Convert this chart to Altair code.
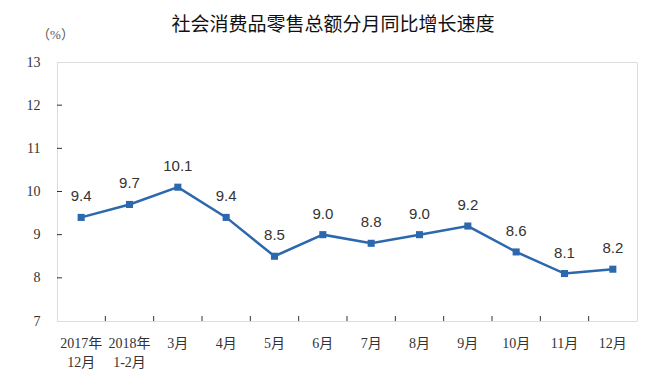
import altair as alt
import pandas as pd

title_text = ["社会消费品零售总额分月同比增长速度"]
cats = ["2017年\n12月", "2018年\n1-2月", "3月", "4月", "5月", "6月", "7月", "8月", "9月", "10月", "11月", "12月"]
vals = [9.4, 9.7, 10.1, 9.4, 8.5, 9.0, 8.8, 9.0, 9.2, 8.6, 8.1, 8.2]
y_ticks = [8, 9, 10, 11, 12]

df = pd.DataFrame({"cat": cats, "val": vals, "lab": [f"{v:.1f}" for v in vals]})
df_xt = pd.DataFrame({"cat": cats[1:]})
df_yt = pd.DataFrame({"v": y_ticks})
df_title = pd.DataFrame({"t": title_text})

W, H = 580, 259
NUM_FONT = "Liberation Serif, Noto Sans CJK SC"
xscale = alt.Scale(type="band", domain=cats, paddingInner=0, paddingOuter=0)
yscale = alt.Scale(domain=[7, 13], nice=False, zero=False)

x_axis = alt.Axis(
    title=None, labelAngle=0, ticks=False, domain=False, labelAlign="center",
    labelExpr="split(datum.label, '\\n')", labelFont=NUM_FONT, labelFontSize=14,
    labelColor="#333333", labelPadding=22, labelLineHeight=19, labelBaseline="middle",
)
y_axis = alt.Axis(
    title="（%）", titleAngle=0, titleX=-2, titleY=-28, titleAlign="center",
    titleBaseline="middle", titleFont=NUM_FONT, titleFontSize=13, titleFontWeight="normal",
    titleColor="#555555", values=[7, 8, 9, 10, 11, 12, 13], ticks=False, domain=False,
    grid=False, labelFont=NUM_FONT, labelFontSize=14, labelColor="#333333", labelPadding=17,
)

base = alt.Chart(df)

line = base.mark_line(color="#2C68AD", strokeWidth=2.5).encode(
    x=alt.X("cat:N", scale=xscale, axis=x_axis, bandPosition=0.5, sort=None),
    y=alt.Y("val:Q", scale=yscale, axis=y_axis),
)
pts = base.mark_square(color="#2C68AD", size=50, opacity=1).encode(
    x=alt.X("cat:N", scale=xscale, bandPosition=0.5, sort=None),
    y=alt.Y("val:Q", scale=yscale),
)
txt = base.mark_text(dy=-21, font="Liberation Sans", fontSize=15, color="#333333").encode(
    x=alt.X("cat:N", scale=xscale, bandPosition=0.5, sort=None),
    y=alt.Y("val:Q", scale=yscale),
    text="lab:N",
)
xt = alt.Chart(df_xt).mark_rule(color="#333333", strokeWidth=1).encode(
    x=alt.X("cat:N", scale=xscale, bandPosition=0, sort=None),
    y=alt.value(H), y2=alt.value(H - 5),
)
yt = alt.Chart(df_yt).mark_rule(color="#333333", strokeWidth=1).encode(
    y=alt.Y("v:Q", scale=yscale),
    x=alt.value(0), x2=alt.value(5),
)
ttl = alt.Chart(df_title).mark_text(
    font="Noto Sans CJK SC", fontSize=19, fontWeight="normal", color="#111111",
    align="center", baseline="middle",
).encode(x=alt.value(276), y=alt.value(-37), text="t:N")

chart = alt.layer(xt, yt, line, pts, txt, ttl).properties(
    width=W, height=H,
    padding={"left": 49, "top": 54, "right": 20, "bottom": 57},
    autosize=alt.AutoSizeParams(type="none"),
).configure_view(stroke="#333333", strokeWidth=1.2).configure(background="white")

chart.save("out.html", embed_options={"renderer": "svg", "actions": False})
